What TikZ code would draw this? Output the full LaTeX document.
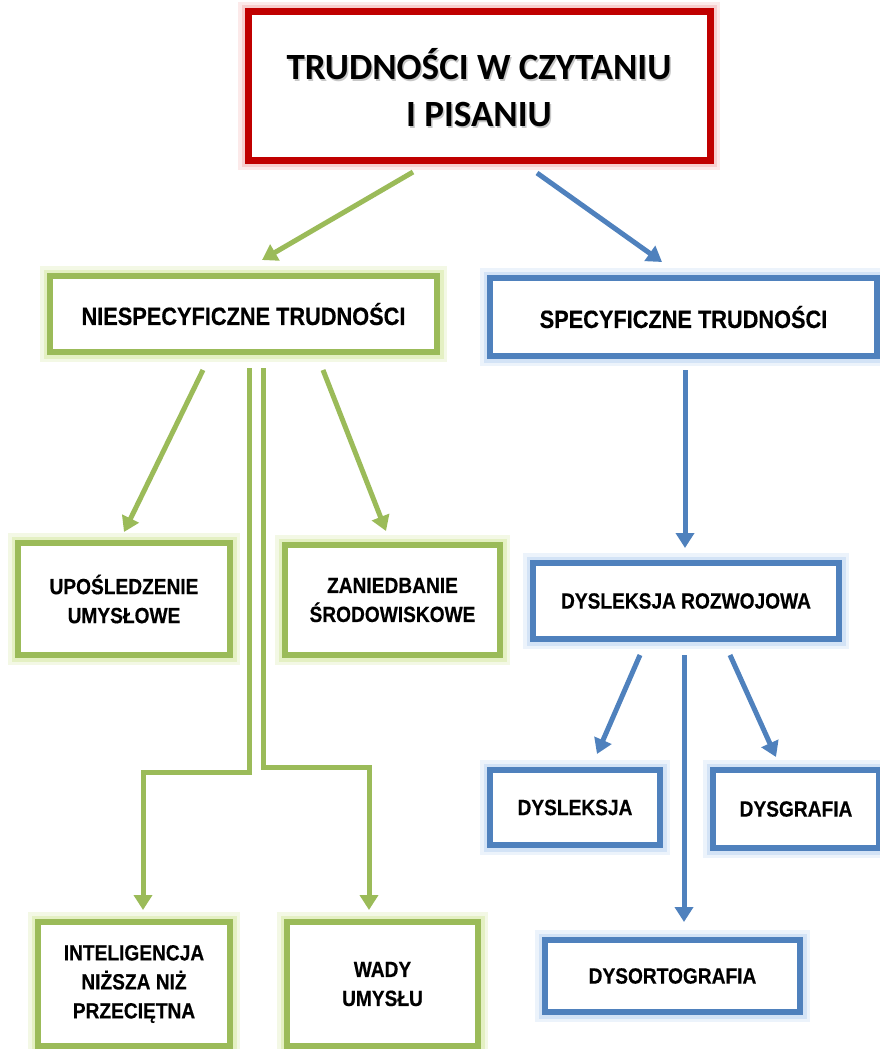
\documentclass[tikz,border=0pt]{standalone}
\usepackage{fontspec}
\usetikzlibrary{arrows.meta}
\newfontfamily\titlefont{Carlito}
\newfontfamily\narrowfont[FakeStretch=0.87, BoldFeatures={FakeBold=0.4}]{Liberation Sans}
\definecolor{cgreen}{HTML}{9BBB59}
\definecolor{cblue}{HTML}{4F81BD}
\definecolor{cred}{HTML}{C00000}
\definecolor{gglow}{HTML}{D7E9A8}
\definecolor{bglow}{HTML}{BFD6F2}
\definecolor{rglow}{HTML}{F4B8B8}
\tikzset{
  glowbox/.style n args={2}{draw=#1, line width=6pt, fill=white, rectangle, align=center, inner sep=0pt,
    preaction={draw=#2, line width=20pt, opacity=0.3},
    preaction={draw=#2, line width=13pt, opacity=0.55}},
  gbox/.style={glowbox={cgreen}{gglow}},
  bbox/.style={glowbox={cblue}{bglow}},
  txtbig/.style={font=\narrowfont\bfseries\fontsize{25}{30}\selectfont},
  txtsm/.style={font=\narrowfont\bfseries\fontsize{22}{29}\selectfont},
  titletxt/.style={font=\titlefont\bfseries\fontsize{37}{47}\selectfont, align=center},
  conn/.style={line width=5pt, -{Triangle[length=15pt,width=18pt]}},
  gconn/.style={conn, draw=cgreen},
  bconn/.style={conn, draw=cblue},
}
\begin{document}
\begin{tikzpicture}[x=1pt,y=-1pt]
\useasboundingbox (0,0) rectangle (879,1049);
% nodes
\node[glowbox={cred}{rglow}, line width=7pt, minimum width=462pt, minimum height=148pt] (top) at (479,86) {};
\node[titletxt, text=black!22] (topsh) at (480.5,90) {TRUDNOŚCI W CZYTANIU\\I PISANIU};
\node[titletxt] (toptxt) at (479,88) {TRUDNOŚCI W CZYTANIU\\I PISANIU};
\node[gbox, txtbig, minimum width=387pt, minimum height=76pt] (nies) at (243.5,314) {NIESPECYFICZNE TRUDNOŚCI};
\node[bbox, txtbig, minimum width=387pt, minimum height=78pt] (spec) at (683.5,317) {SPECYFICZNE TRUDNOŚCI};
\node[gbox, txtsm, minimum width=212pt, minimum height=112pt] (upo) at (124,599) {UPOŚLEDZENIE\\UMYSŁOWE};
\node[gbox, txtsm, minimum width=215pt, minimum height=110pt] (zan) at (392.5,600) {ZANIEDBANIE\\ŚRODOWISKOWE};
\node[bbox, txtsm, minimum width=306pt, minimum height=76pt] (dysroz) at (686,601) {DYSLEKSJA ROZWOJOWA};
\node[bbox, txtsm, minimum width=170pt, minimum height=75pt] (dysl) at (575,807.5) {DYSLEKSJA};
\node[bbox, txtsm, minimum width=166pt, minimum height=78pt] (dysg) at (796,809) {DYSGRAFIA};
\node[bbox, txtsm, minimum width=255pt, minimum height=72pt] (dysort) at (672.5,976) {DYSORTOGRAFIA};
\node[gbox, txtsm, minimum width=192pt, minimum height=124pt] (intel) at (134,984) {INTELIGENCJA\\NIŻSZA NIŻ\\PRZECIĘTNA};
\node[gbox, txtsm, minimum width=191pt, minimum height=124pt] (wady) at (382.5,984) {WADY\\UMYSŁU};
% connector coordinates
\coordinate (c1s) at (413,172); \coordinate (c1e) at (262,260);
\coordinate (c2s) at (537,173); \coordinate (c2e) at (662,262);
\coordinate (c3s) at (203,370); \coordinate (c3e) at (124,532);
\coordinate (c4s) at (323,370); \coordinate (c4e) at (386,531);
\coordinate (c5s) at (249,368); \coordinate (c5m) at (249,772); \coordinate (c5n) at (143,772); \coordinate (c5e) at (143,910);
\coordinate (c6s) at (263,368); \coordinate (c6m) at (263,767); \coordinate (c6n) at (369,767); \coordinate (c6e) at (369,910);
\coordinate (c7s) at (685,370); \coordinate (c7e) at (685,548);
\coordinate (c8s) at (640,655); \coordinate (c8e) at (597,754);
\coordinate (c9s) at (684,655); \coordinate (c9e) at (684,922);
\coordinate (c10s) at (730,655); \coordinate (c10e) at (776,757);
% connectors
\draw[gconn] (c1s) -- (c1e);
\draw[bconn] (c2s) -- (c2e);
\draw[gconn] (c3s) -- (c3e);
\draw[gconn] (c4s) -- (c4e);
\draw[gconn] (c5s) -- (c5m) -- (c5n) -- (c5e);
\draw[gconn] (c6s) -- (c6m) -- (c6n) -- (c6e);
\draw[bconn] (c7s) -- (c7e);
\draw[bconn] (c8s) -- (c8e);
\draw[bconn] (c9s) -- (c9e);
\draw[bconn] (c10s) -- (c10e);
\end{tikzpicture}
\end{document}
